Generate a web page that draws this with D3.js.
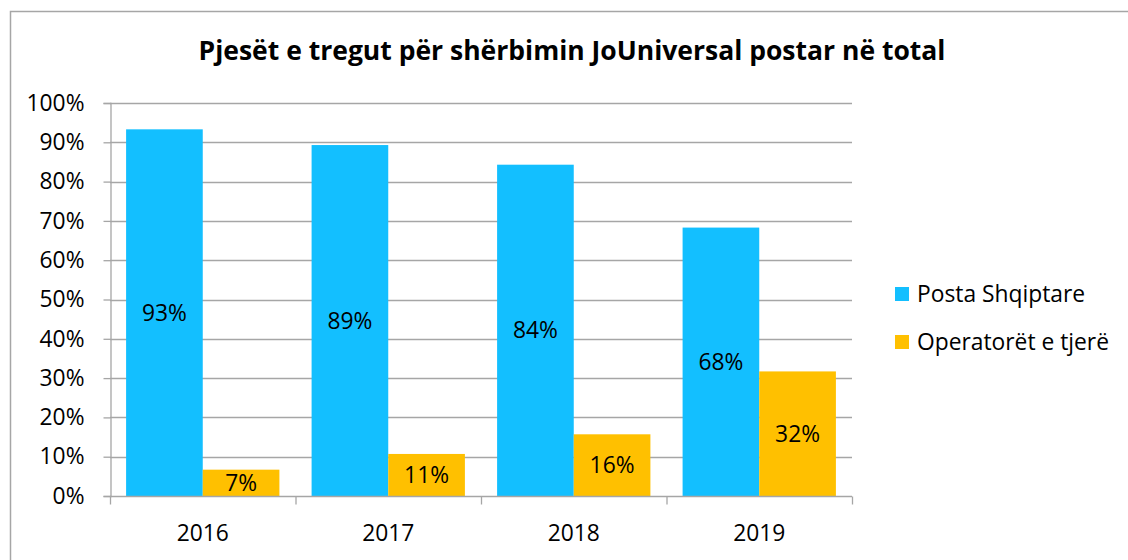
<!DOCTYPE html>
<html>
<head>
<meta charset="utf-8">
<script src="https://cdn.jsdelivr.net/npm/d3@7"></script>
<style>
  body { margin: 0; background: #fff; }
  svg { display: block; font-family: "Open Sans", sans-serif; }
</style>
</head>
<body>
<svg id="chart" width="1128" height="560"></svg>
<script>
const years = ["2016", "2017", "2018", "2019"];
const seriesNames = ["Posta Shqiptare", "Operatorët e tjerë"];
const posta = [93.3, 89.3, 84.3, 68.3];
const operatoret = [6.7, 10.7, 15.7, 31.7];
const yTicks = [0, 10, 20, 30, 40, 50, 60, 70, 80, 90, 100];
const colors = ["#13BFFF", "#FFC000"];

const svg = d3.select("#chart");
const plotLeft = 110, plotRight = 852, plotTop = 103, plotBottom = 496;
const fontSize = "22.8px";

// frame of the chart object
svg.append("rect")
    .attr("x", 10.5).attr("y", 11.5)
    .attr("width", 1140).attr("height", 600)
    .attr("fill", "#fff").attr("stroke", "#a6a6a6").attr("stroke-width", 1.5);

svg.append("text")
    .attr("x", 572).attr("y", 60)
    .attr("text-anchor", "middle")
    .style("font-size", "26.5px").style("font-weight", "bold")
    .text("Pjesët e tregut për shërbimin JoUniversal postar në total");

const x = d3.scaleBand().domain(years).range([plotLeft, plotRight]).paddingInner(0).paddingOuter(0);
const y = d3.scaleLinear().domain([0, 100]).range([plotBottom, plotTop]);

// gridlines
svg.append("g").selectAll("line").data(yTicks.filter(d => d > 0)).join("line")
    .attr("x1", plotLeft).attr("x2", plotRight)
    .attr("y1", d => Math.round(y(d)) + 0.5).attr("y2", d => Math.round(y(d)) + 0.5)
    .attr("stroke", "#a6a6a6").attr("stroke-width", 1.3);

const yAxis = svg.append("g").attr("transform", `translate(${plotLeft + 0.5},0)`)
    .call(d3.axisLeft(y).tickValues(yTicks).tickFormat(d => d + "%").tickSize(7).tickPadding(19));
yAxis.select(".domain").attr("stroke", "#a6a6a6").attr("stroke-width", 1.3);
yAxis.selectAll(".tick line").attr("stroke", "#a6a6a6").attr("stroke-width", 1.3);
yAxis.selectAll("text").style("font-size", fontSize).attr("fill", "#000")
    .style("font-family", "'Open Sans', sans-serif");

const sub = d3.scaleBand().domain([0, 1]).range([0, x.bandwidth()]).paddingOuter(0.21).paddingInner(0);

const data = years.map((yr, i) => ({ year: yr, vals: [posta[i], operatoret[i]] }));

const groups = svg.append("g").selectAll("g").data(data).join("g")
    .attr("transform", d => `translate(${x(d.year)},0)`);

groups.selectAll("rect").data(d => d.vals).join("rect")
    .attr("x", (v, j) => sub(j))
    .attr("width", sub.bandwidth())
    .attr("y", v => y(v))
    .attr("height", v => y(0) - y(v))
    .attr("fill", (v, j) => colors[j]);

groups.selectAll("text").data(d => d.vals).join("text")
    .attr("x", (v, j) => sub(j) + sub.bandwidth() / 2)
    .attr("y", v => (y(v) + y(0)) / 2)
    .attr("dy", "0.35em")
    .attr("text-anchor", "middle")
    .style("font-size", fontSize)
    .text(v => Math.round(v) + "%");

// x axis
const xAxis = svg.append("g").attr("transform", `translate(0,${plotBottom + 0.5})`);
xAxis.append("line").attr("x1", plotLeft).attr("x2", plotRight)
    .attr("stroke", "#a6a6a6").attr("stroke-width", 1.3);
xAxis.selectAll(".tk").data(years.concat(["end"])).join("line")
    .attr("x1", (d, i) => plotLeft + i * x.bandwidth() + 0.5)
    .attr("x2", (d, i) => plotLeft + i * x.bandwidth() + 0.5)
    .attr("y1", 0).attr("y2", 8)
    .attr("stroke", "#a6a6a6").attr("stroke-width", 1.3);
xAxis.selectAll("text").data(years).join("text")
    .attr("x", d => x(d) + x.bandwidth() / 2)
    .attr("y", 44)
    .attr("text-anchor", "middle")
    .style("font-size", fontSize)
    .text(d => d);

// legend
const legend = svg.append("g").selectAll("g").data(seriesNames).join("g")
    .attr("transform", (d, i) => `translate(895,${287 + i * 48})`);
legend.append("rect").attr("width", 14).attr("height", 14)
    .attr("fill", (d, i) => colors[i]);
legend.append("text").attr("x", 22).attr("y", 7).attr("dy", "0.35em")
    .style("font-size", fontSize).text(d => d);
</script>
</body>
</html>
